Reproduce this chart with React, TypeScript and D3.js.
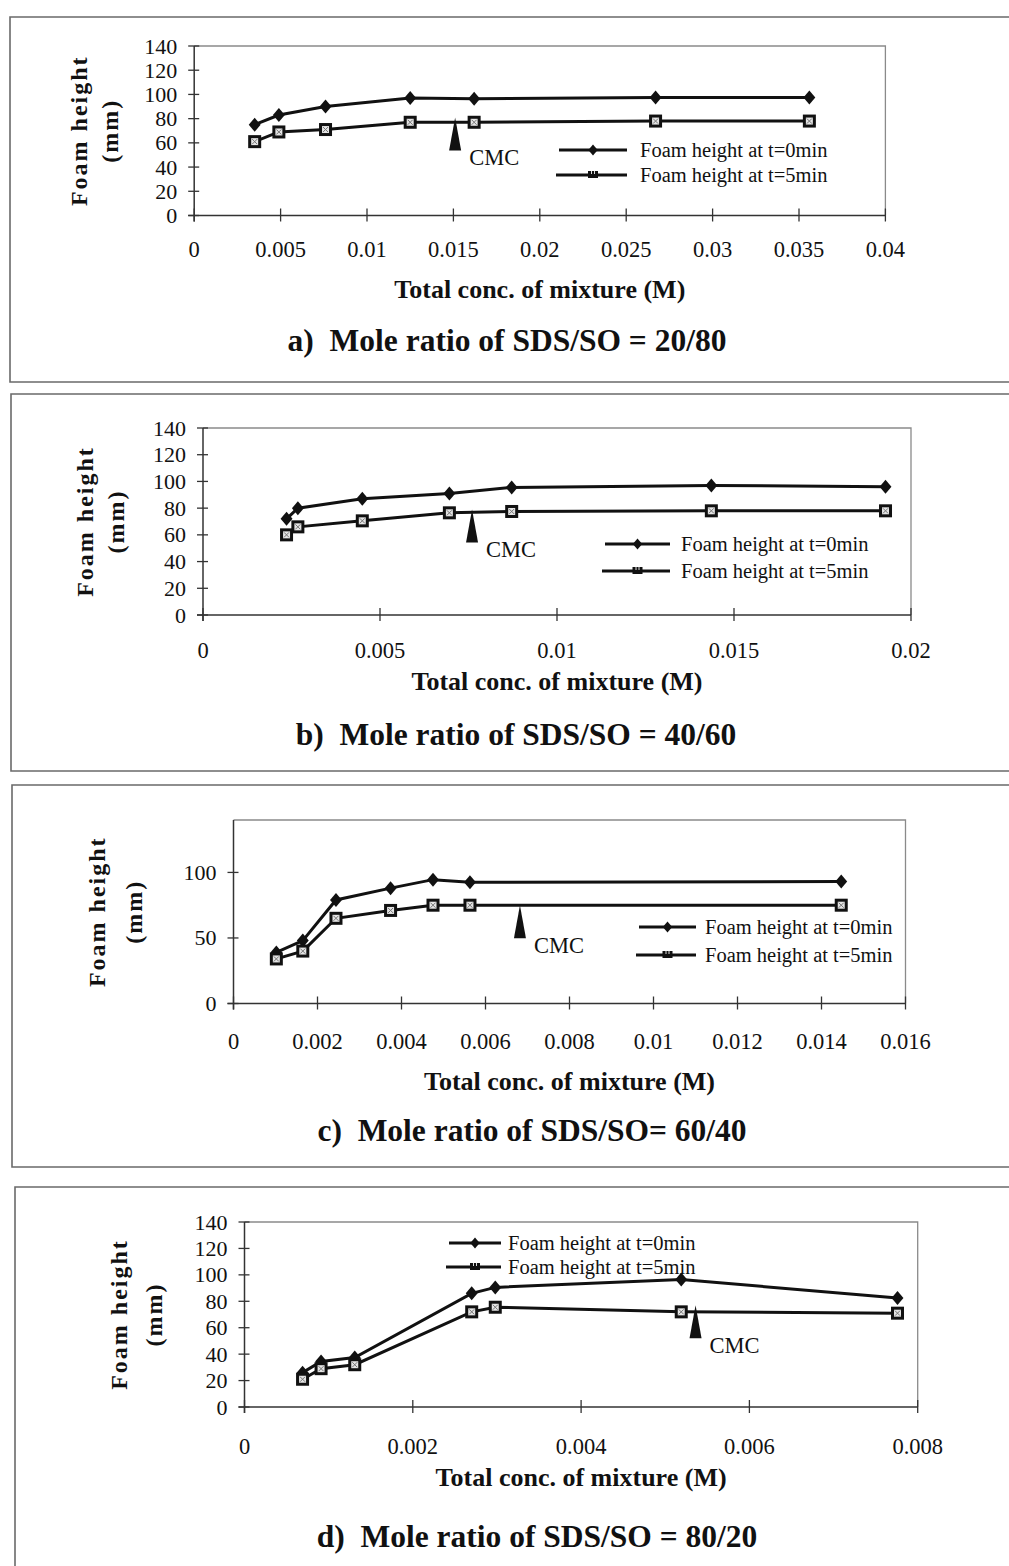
import React from "react";
import * as d3 from "d3";

// ---- Data ----
const concA = [0.0035, 0.0049, 0.0076, 0.0125, 0.0162, 0.0267, 0.0356];
const foam0A = [75, 83, 90, 97, 96.5, 97.5, 97.5];
const foam5A = [61, 69, 71, 77, 77, 78, 78];
const cmcA = 0.0151;
const cmcTipA = 81;
const xTicksA = [0, 0.005, 0.01, 0.015, 0.02, 0.025, 0.03, 0.035, 0.04];
const xLabelsA = ["0", "0.005", "0.01", "0.015", "0.02", "0.025", "0.03", "0.035", "0.04"];

const concB = [0.00236, 0.00268, 0.0045, 0.00696, 0.00872, 0.01436, 0.01928];
const foam0B = [72, 80, 87, 91, 95.5, 97, 96];
const foam5B = [60, 66, 70.5, 76.5, 77.5, 78, 78];
const cmcB = 0.0076;
const cmcTipB = 79;
const xTicksB = [0, 0.005, 0.01, 0.015, 0.02];
const xLabelsB = ["0", "0.005", "0.01", "0.015", "0.02"];

const concC = [0.00102, 0.00165, 0.00244, 0.00374, 0.00475, 0.00563, 0.01447];
const foam0C = [39, 48, 79, 88, 94.5, 92.5, 93];
const foam5C = [34, 40, 65, 71, 75, 75, 75];
const cmcC = 0.00682;
const cmcTipC = 75;
const xTicksC = [0, 0.002, 0.004, 0.006, 0.008, 0.01, 0.012, 0.014, 0.016];
const xLabelsC = ["0", "0.002", "0.004", "0.006", "0.008", "0.01", "0.012", "0.014", "0.016"];

const concD = [0.00069, 0.00091, 0.00131, 0.0027, 0.00298, 0.00519, 0.00776];
const foam0D = [26, 34.5, 37.5, 86, 90.5, 96.5, 82.5];
const foam5D = [21, 29, 32, 72, 75.5, 72, 71];
const cmcD = 0.00536;
const cmcTipD = 77;
const xTicksD = [0, 0.002, 0.004, 0.006, 0.008];
const xLabelsD = ["0", "0.002", "0.004", "0.006", "0.008"];

const yTicksFull = [0, 20, 40, 60, 80, 100, 120, 140];
const yTicksC = [0, 50, 100];
const yMax = 140;

const seriesNames = ["Foam height at t=0min", "Foam height at t=5min"];
const xTitle = "Total conc. of mixture (M)";
const yTitle1 = "Foam height";
const yTitle2 = "(mm)";
const titles = [
  "a)  Mole ratio of SDS/SO = 20/80",
  "b)  Mole ratio of SDS/SO = 40/60",
  "c)  Mole ratio of SDS/SO= 60/40",
  "d)  Mole ratio of SDS/SO = 80/20",
];

// ---- Layout ----
const layouts = [
  { x0: 194.2, x1: 885.4, yTop: 46, yBot: 215.5, yt: [79, 110], xTickY: 249, xTitleY: 289, titleX: 507, titleY: 340,
    leg: { x1: 559, x2: 627, tx: 640, y0: 150, y1: 175 }, frame: { l: 10, t: 17, b: 382 } },
  { x0: 203, x1: 911, yTop: 428, yBot: 615, yt: [85, 116], xTickY: 650, xTitleY: 681, titleX: 516, titleY: 734,
    leg: { x1: 605, x2: 670, tx: 681, y0: 544, y1: 571 }, frame: { l: 11, t: 394, b: 771 } },
  { x0: 233.5, x1: 905.5, yTop: 820, yBot: 1003.5, yt: [97, 134], xTickY: 1041, xTitleY: 1081, titleX: 532, titleY: 1130,
    leg: { x1: 639, x2: 696, tx: 705, y0: 927, y1: 955 }, frame: { l: 12, t: 785, b: 1167 } },
  { x0: 244.5, x1: 917.7, yTop: 1222, yBot: 1407, yt: [119, 154], xTickY: 1446, xTitleY: 1477, titleX: 537, titleY: 1536,
    leg: { x1: 449, x2: 501, tx: 508, y0: 1243, y1: 1267 }, frame: { l: 15, t: 1187, b: null as number | null } },
];

const panelsData = [
  { conc: concA, f0: foam0A, f5: foam5A, cmc: cmcA, tip: cmcTipA, xt: xTicksA, xl: xLabelsA, yt: yTicksFull },
  { conc: concB, f0: foam0B, f5: foam5B, cmc: cmcB, tip: cmcTipB, xt: xTicksB, xl: xLabelsB, yt: yTicksFull },
  { conc: concC, f0: foam0C, f5: foam5C, cmc: cmcC, tip: cmcTipC, xt: xTicksC, xl: xLabelsC, yt: yTicksC },
  { conc: concD, f0: foam0D, f5: foam5D, cmc: cmcD, tip: cmcTipD, xt: xTicksD, xl: xLabelsD, yt: yTicksFull },
];

const SERIF = "'Liberation Serif', 'Times New Roman', serif";
const INK = "#111";

function Diamond({ x, y, r = 7 }: { x: number; y: number; r?: number }) {
  return <path d={`M${x},${y - r} L${x + r * 0.85},${y} L${x},${y + r} L${x - r * 0.85},${y} Z`} fill={INK} />;
}

function SquareMark({ x, y, s = 13 }: { x: number; y: number; s?: number }) {
  const h = s / 2;
  return (
    <g>
      <rect x={x - h} y={y - h} width={s} height={s} fill={INK} />
      <rect x={x - 3.5} y={y - 3.5} width={7} height={7} fill="#e4e4e4" />
      <path d={`M${x - 2.5},${y - 2.5} L${x + 2.5},${y + 2.5} M${x + 2.5},${y - 2.5} L${x - 2.5},${y + 2.5}`} stroke="#777" strokeWidth={1} />
    </g>
  );
}

function Panel({ idx }: { idx: number }) {
  const L = layouts[idx];
  const D = panelsData[idx];
  const xMax = D.xt[D.xt.length - 1];
  const x = d3.scaleLinear().domain([0, xMax]).range([L.x0, L.x1]);
  const y = d3.scaleLinear().domain([0, yMax]).range([L.yBot, L.yTop]);
  const line = d3.line<[number, number]>().x((d) => x(d[0])).y((d) => y(d[1]));
  const pts0 = D.conc.map((c, i) => [c, D.f0[i]] as [number, number]);
  const pts5 = D.conc.map((c, i) => [c, D.f5[i]] as [number, number]);
  const ax = x(D.cmc);
  const ay = y(D.tip);
  const F = L.frame;
  const framePath = F.b !== null
    ? `M1009,${F.t} L${F.l},${F.t} L${F.l},${F.b} L1009,${F.b}`
    : `M1009,${F.t} L${F.l},${F.t} L${F.l},1566`;
  const ytMid = (L.yTop + L.yBot) / 2;
  const xMid = (L.x0 + L.x1) / 2;
  return (
    <g>
      <path d={framePath} fill="none" stroke="#6a6a6a" strokeWidth={1.6} />
      {/* plot frame */}
      <path d={`M${L.x0},${L.yTop} L${L.x1},${L.yTop} L${L.x1},${L.yBot}`} fill="none" stroke="#8a8a8a" strokeWidth={1.3} />
      {/* axes */}
      <line x1={L.x0} x2={L.x0} y1={L.yTop} y2={L.yBot + 6} stroke="#333" strokeWidth={1.5} />
      <line x1={L.x0 - 6} x2={L.x1} y1={L.yBot} y2={L.yBot} stroke="#333" strokeWidth={1.5} />
      {D.yt.map((t) => (
        <g key={"y" + t}>
          <line x1={L.x0 - 6} x2={L.x0 + 5} y1={y(t)} y2={y(t)} stroke="#333" strokeWidth={1.3} />
          <text x={L.x0 - 17} y={y(t)} textAnchor="end" dominantBaseline="central" fontFamily={SERIF} fontSize={22} fill={INK}>{t}</text>
        </g>
      ))}
      {D.xt.map((t, i) => (
        <g key={"x" + i}>
          <line x1={x(t)} x2={x(t)} y1={L.yBot - 7} y2={L.yBot + 6} stroke="#333" strokeWidth={1.3} />
          <text x={x(t)} y={L.xTickY} textAnchor="middle" dominantBaseline="central" fontFamily={SERIF} fontSize={22.5} fill={INK}>{D.xl[i]}</text>
        </g>
      ))}
      {/* series */}
      <path d={line(pts0) || ""} fill="none" stroke={INK} strokeWidth={3} />
      <path d={line(pts5) || ""} fill="none" stroke={INK} strokeWidth={3} />
      {pts0.map((p, i) => <Diamond key={"d" + i} x={x(p[0])} y={y(p[1])} />)}
      {pts5.map((p, i) => <SquareMark key={"s" + i} x={x(p[0])} y={y(p[1])} />)}
      {/* CMC arrow */}
      <path d={`M${ax},${ay} L${ax + 6},${ay + 33} L${ax - 6},${ay + 33} Z`} fill={INK} />
      <text x={ax + 14} y={ay + 40} dominantBaseline="central" fontFamily={SERIF} fontSize={22.5} fill={INK}>CMC</text>
      {/* legend */}
      <line x1={L.leg.x1} x2={L.leg.x2} y1={L.leg.y0} y2={L.leg.y0} stroke={INK} strokeWidth={3} />
      <Diamond x={(L.leg.x1 + L.leg.x2) / 2} y={L.leg.y0} r={5.5} />
      <text x={L.leg.tx} y={L.leg.y0} dominantBaseline="central" fontFamily={SERIF} fontSize={20.5} fill={INK}>{seriesNames[0]}</text>
      <line x1={L.leg.x1 - 3} x2={L.leg.x2} y1={L.leg.y1} y2={L.leg.y1} stroke={INK} strokeWidth={3} />
      <g>
        <rect x={(L.leg.x1 + L.leg.x2) / 2 - 5} y={L.leg.y1 - 4} width={10} height={7} fill={INK} />
        <line x1={(L.leg.x1 + L.leg.x2) / 2 - 1.5} x2={(L.leg.x1 + L.leg.x2) / 2 - 1.5} y1={L.leg.y1 - 4} y2={L.leg.y1 - 1} stroke="#ddd" strokeWidth={1} />
        <line x1={(L.leg.x1 + L.leg.x2) / 2 + 1.5} x2={(L.leg.x1 + L.leg.x2) / 2 + 1.5} y1={L.leg.y1 - 4} y2={L.leg.y1 - 1} stroke="#ddd" strokeWidth={1} />
      </g>
      <text x={L.leg.tx} y={L.leg.y1} dominantBaseline="central" fontFamily={SERIF} fontSize={20.5} fill={INK}>{seriesNames[1]}</text>
      {/* y title */}
      <text transform={`translate(${L.yt[0]},${ytMid}) rotate(-90)`} textAnchor="middle" dominantBaseline="central" fontFamily={SERIF} fontWeight="bold" fontSize={24} letterSpacing={2} fill={INK}>{yTitle1}</text>
      <text transform={`translate(${L.yt[1]},${ytMid}) rotate(-90)`} textAnchor="middle" dominantBaseline="central" fontFamily={SERIF} fontWeight="bold" fontSize={24} letterSpacing={2} fill={INK}>{yTitle2}</text>
      {/* x title */}
      <text x={xMid} y={L.xTitleY} textAnchor="middle" dominantBaseline="central" fontFamily={SERIF} fontWeight="bold" fontSize={26} fill={INK}>{xTitle}</text>
      {/* subtitle */}
      <text x={L.titleX} y={L.titleY} textAnchor="middle" dominantBaseline="central" fontFamily={SERIF} fontWeight="bold" fontSize={31.5} fill={INK} xmlSpace="preserve" style={{ whiteSpace: "pre" }}>{titles[idx]}</text>
    </g>
  );
}

export default function App() {
  return (
    <svg width={1009} height={1566} style={{ position: "absolute", left: 0, top: 0, background: "#fff" }}>
      <rect x={0} y={0} width={1009} height={1566} fill="#fff" />
      {[0, 1, 2, 3].map((i) => <Panel key={i} idx={i} />)}
    </svg>
  );
}
